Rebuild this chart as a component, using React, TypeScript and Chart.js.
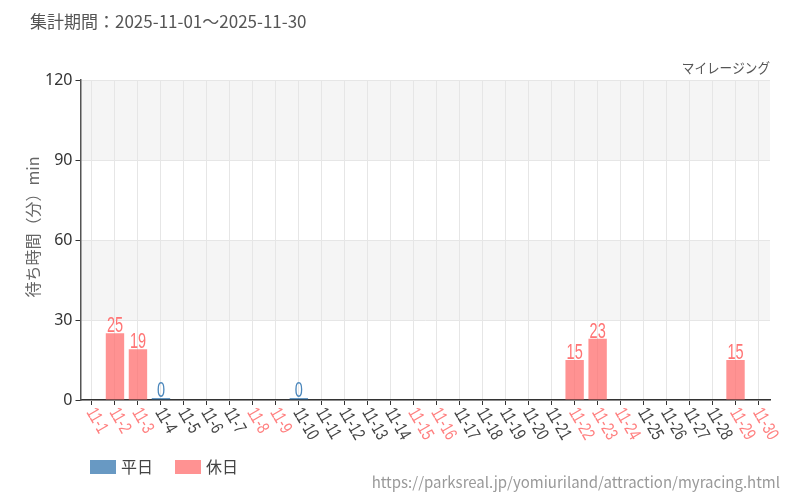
import React, { useEffect, useRef } from "react";
import { Chart, registerables } from "chart.js";

Chart.register(...registerables);

const categories = [
  "11-1", "11-2", "11-3", "11-4", "11-5", "11-6", "11-7", "11-8", "11-9", "11-10",
  "11-11", "11-12", "11-13", "11-14", "11-15", "11-16", "11-17", "11-18", "11-19", "11-20",
  "11-21", "11-22", "11-23", "11-24", "11-25", "11-26", "11-27", "11-28", "11-29", "11-30",
];
const holidayDates = ["11-1", "11-2", "11-3", "11-8", "11-9", "11-15", "11-16", "11-22", "11-23", "11-24", "11-29", "11-30"];
const weekdayValues: (number | null)[] = [
  null, null, null, 0, null, null, null, null, null, 0,
  null, null, null, null, null, null, null, null, null, null,
  null, null, null, null, null, null, null, null, null, null,
];
const holidayValues: (number | null)[] = [
  null, 25, 19, null, null, null, null, null, null, null,
  null, null, null, null, null, null, null, null, null, null,
  null, 15, 23, null, null, null, null, null, 15, null,
];
const yTicks = [0, 30, 60, 90, 120];
const titleText = "集計期間：2025-11-01～2025-11-30";
const subTitle = "マイレージング";
const yTitle = "待ち時間（分）min";
const legendLabels = ["平日", "休日"];
const sourceUrl = "https://parksreal.jp/yomiuriland/attraction/myracing.html";

const JP = "'Noto Sans CJK JP', 'Noto Sans', sans-serif";
const NARROW = "'Liberation Sans', Arial, sans-serif";
const BLUE = "rgba(40,110,170,0.7)";
const PINK = "rgba(255,110,110,0.75)";
const BLUE_TXT = "#4a86bb";
const PINK_TXT = "#ff7474";

const decorPlugin = {
  id: "decor",
  beforeDraw(chart: any) {
    const { ctx, chartArea, scales } = chart;
    const y = scales.y;
    ctx.save();
    ctx.fillStyle = "#f5f5f5";
    const bands = [[90, 120], [30, 60]];
    for (const [a, b] of bands) {
      const top = y.getPixelForValue(b);
      const bot = y.getPixelForValue(a);
      ctx.fillRect(chartArea.left, top, chartArea.right - chartArea.left, bot - top);
    }
    ctx.restore();
  },
  afterDraw(chart: any) {
    const { ctx, chartArea, scales } = chart;
    const x = scales.x;
    ctx.save();
    // title
    ctx.fillStyle = "#555";
    ctx.font = `17px ${JP}`;
    ctx.textAlign = "left";
    ctx.textBaseline = "middle";
    ctx.fillText(titleText, 30, 22);
    // subtitle
    ctx.save();
    ctx.translate(770, 68);
    ctx.scale(0.9, 1);
    ctx.textAlign = "right";
    ctx.font = `14px ${JP}`;
    ctx.fillText(subTitle, 0, 0);
    ctx.restore();
    // y title
    ctx.save();
    ctx.translate(33, 227);
    ctx.rotate(-Math.PI / 2);
    ctx.textAlign = "center";
    ctx.textBaseline = "middle";
    ctx.fillStyle = "#666";
    ctx.font = `16px ${JP}`;
    ctx.fillText(yTitle, 0, 0);
    ctx.restore();
    // x labels
    ctx.font = `18px ${NARROW}`;
    categories.forEach((c, i) => {
      const px = x.getPixelForValue(i);
      ctx.save();
      ctx.translate(px + 6, chartArea.bottom + 5);
      ctx.rotate(Math.PI / 3);
      ctx.scale(0.75, 1);
      ctx.textAlign = "left";
      ctx.textBaseline = "top";
      ctx.fillStyle = holidayDates.includes(c) ? "#ff8080" : "#444";
      ctx.fillText(c, 0, 0);
      ctx.restore();
    });
    // legend
    ctx.textAlign = "left";
    ctx.textBaseline = "middle";
    ctx.font = `16px ${JP}`;
    ctx.fillStyle = BLUE;
    ctx.fillRect(90, 460, 26, 14);
    ctx.fillStyle = "#444";
    ctx.fillText(legendLabels[0], 121, 467);
    ctx.fillStyle = PINK;
    ctx.fillRect(175, 460, 26, 14);
    ctx.fillStyle = "#444";
    ctx.fillText(legendLabels[1], 206, 467);
    // source
    ctx.textAlign = "right";
    ctx.fillStyle = "#999";
    ctx.font = `15px ${JP}`;
    ctx.fillText(sourceUrl, 780, 482);
    ctx.restore();
  },
  afterDatasetsDraw(chart: any) {
    const { ctx } = chart;
    ctx.save();
    ctx.font = `22px ${NARROW}`;
    ctx.textAlign = "center";
    ctx.textBaseline = "alphabetic";
    chart.data.datasets.forEach((ds: any, di: number) => {
      const meta = chart.getDatasetMeta(di);
      ctx.fillStyle = di === 0 ? BLUE_TXT : PINK_TXT;
      meta.data.forEach((el: any, i: number) => {
        const v = ds.data[i];
        if (v === null || v === undefined) return;
        ctx.save();
        ctx.translate(el.x, el.y - 1);
        ctx.scale(0.66, 1);
        ctx.fillText(String(v), 0, 0);
        ctx.restore();
      });
    });
    ctx.restore();
  },
};

export default function App() {
  const ref = useRef<HTMLCanvasElement>(null);
  useEffect(() => {
    document.body.style.margin = "0";
    const chart = new Chart(ref.current!, {
      type: "bar",
      data: {
        labels: categories,
        datasets: [
          { label: legendLabels[0], data: weekdayValues, backgroundColor: BLUE, borderWidth: 0, minBarLength: 2 },
          { label: legendLabels[1], data: holidayValues, backgroundColor: PINK, borderWidth: 0 },
        ],
      },
      options: {
        responsive: false,
        animation: false,
        layout: { padding: { left: 0, right: 30, top: 80, bottom: 94 } },
        plugins: { legend: { display: false }, tooltip: { enabled: false }, title: { display: false } },
        datasets: { bar: { barPercentage: 0.8, categoryPercentage: 1 } },
        scales: {
          x: {
            stacked: true,
            offset: true,
            ticks: { display: false },
            grid: { offset: false, color: "#e6e6e6", tickColor: "#333", tickLength: 5, drawTicks: true },
            border: { color: "#333", width: 1.5 },
            afterFit: (s: any) => { s.height = 6; },
          },
          y: {
            stacked: true,
            min: 0,
            max: 120,
            afterBuildTicks: (s: any) => { s.ticks = yTicks.map((v) => ({ value: v })); },
            ticks: { color: "#333", font: { family: "'Noto Sans', sans-serif", size: 16 }, padding: 3 },
            grid: { color: "#e6e6e6", tickColor: "#333", tickLength: 5 },
            border: { color: "#555", width: 1.5 },
            afterFit: (s: any) => { s.width = 80.5; },
          },
        },
      },
      plugins: [decorPlugin],
    });
    return () => chart.destroy();
  }, []);
  return (
    <div style={{ position: "absolute", left: 0, top: 0, width: 800, height: 500 }}>
      <canvas ref={ref} width={800} height={500} style={{ width: 800, height: 500 }} />
    </div>
  );
}
